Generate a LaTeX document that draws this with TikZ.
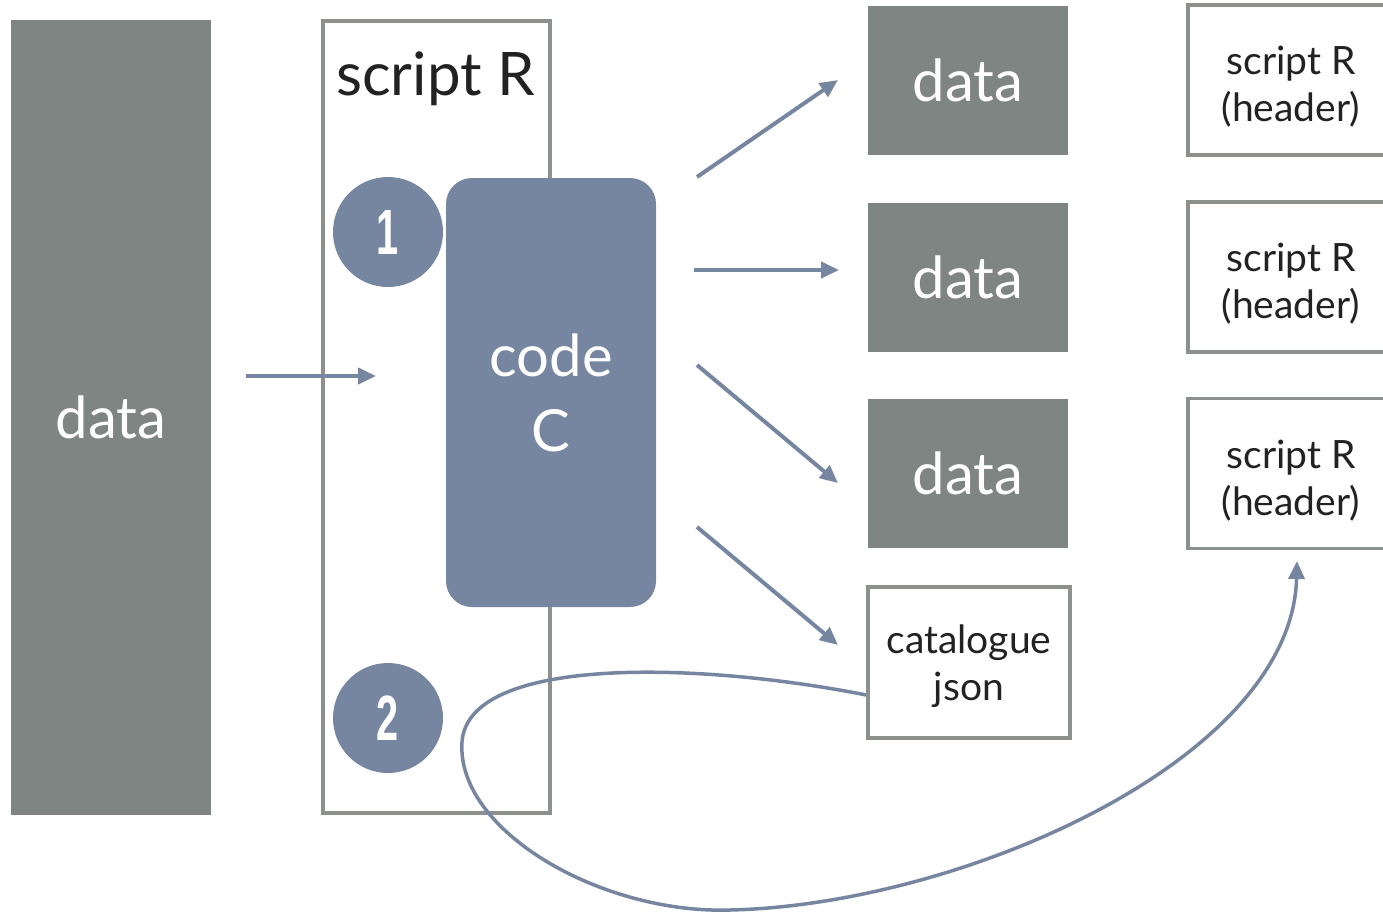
\documentclass[tikz,border=0pt]{standalone}
\usepackage{fontspec}
\setmainfont{Lato}
\newfontfamily\digitfont{Liberation Sans}
\usetikzlibrary{arrows.meta}
\definecolor{slab}{HTML}{7F8582}
\definecolor{steel}{HTML}{7786A0}
\definecolor{frame}{HTML}{8C918E}
\definecolor{ink}{HTML}{222222}
\tikzset{
  slabbox/.style={fill=slab, draw=none, text=white, inner sep=0pt},
  framebox/.style={draw=frame, line width=3.5pt, fill=white, text=ink, align=center, inner sep=0pt},
  badge/.style={circle, fill=steel, minimum size=110pt, inner sep=0pt, text=white},
  flow/.style={draw=steel, line width=4pt, -{Triangle[length=18pt,width=16pt]}},
  loop/.style={draw=steel, line width=3.5pt, -{Triangle[length=18pt,width=16pt]}},
  bigtxt/.style={font=\fontsize{58}{58}\selectfont},
  midtxt/.style={font=\fontsize{39}{47}\selectfont}
}
\newcommand{\badgedigit}[1]{\scalebox{0.62}[1]{\digitfont\bfseries\fontsize{64}{64}\selectfont #1}}
\begin{document}
\begin{tikzpicture}[x=1pt,y=-1pt]
\useasboundingbox (0,0) rectangle (1383,914);

% input data column
\node[slabbox, minimum width=200pt, minimum height=795pt, bigtxt] (src) at (111,417.5) {data};

% script frame and its title
\node[framebox, minimum width=227pt, minimum height=792pt] (script) at (436.5,417) {};
\node[anchor=base west, text=ink, font=\fontsize{60}{60}\selectfont, inner sep=0pt] (title) at (336,95) {script R};

% C code block
\node[fill=steel, rounded corners=26pt, minimum width=210pt, minimum height=429pt,
      text=white, align=center, inner sep=0pt,
      font=\fontsize{58}{75}\selectfont] (code) at (551,392.5) {code\\C};

% step badges
\node[badge] (b1) at (388,232) {\badgedigit{1}};
\node[badge] (b2) at (388,718) {\badgedigit{2}};

% outputs
\node[slabbox, minimum width=200pt, minimum height=149pt, bigtxt] (d1) at (968,80.5) {data};
\node[slabbox, minimum width=200pt, minimum height=149pt, bigtxt] (d2) at (968,277.5) {data};
\node[slabbox, minimum width=200pt, minimum height=149pt, bigtxt] (d3) at (968,473.5) {data};
\node[framebox, minimum width=202pt, minimum height=151pt] (cat) at (969,662.5) {};
\node[midtxt, align=center, text=ink] (ct) at ([yshift=-4pt]cat.center) {catalogue\\json};

% generated script headers
\node[framebox, minimum width=206pt, minimum height=150pt] (h1) at (1291,80) {};
\node[framebox, minimum width=206pt, minimum height=150pt] (h2) at (1291,277) {};
\node[framebox, minimum width=206pt, minimum height=150pt] (h3) at (1291,473.5) {};
\node[midtxt, align=center, text=ink] (t1) at ([yshift=-7pt]h1.center) {script R\\(header)};
\node[midtxt, align=center, text=ink] (t2) at ([yshift=-7pt]h2.center) {script R\\(header)};
\node[midtxt, align=center, text=ink] (t3) at ([yshift=-7pt]h3.center) {script R\\(header)};

% arrow end points
\coordinate (inA) at (246,376);
\coordinate (inB) at (376,376);
\coordinate (o1a) at (697,177);
\coordinate (o1b) at (838,80);
\coordinate (o2a) at (694,270);
\coordinate (o2b) at (839,270);
\coordinate (o3a) at (697,365);
\coordinate (o3b) at (838,483);
\coordinate (o4a) at (697,527);
\coordinate (o4b) at (838,645);
\coordinate (hdr) at (1297,561);

\draw[flow] (inA) -- (inB);
\draw[flow] (o1a) -- (o1b);
\draw[flow] (o2a) -- (o2b);
\draw[flow] (o3a) -- (o3b);
\draw[flow] (o4a) -- (o4b);

% catalogue feeds back into the headers
\draw[loop] (cat.west |- 0,695) .. controls (700,662) and (468,655) .. (462,742)
  .. controls (456,830) and (600,914) .. (730,910)
  .. controls (960,905) and (1292,760) .. (hdr);
\end{tikzpicture}
\end{document}
